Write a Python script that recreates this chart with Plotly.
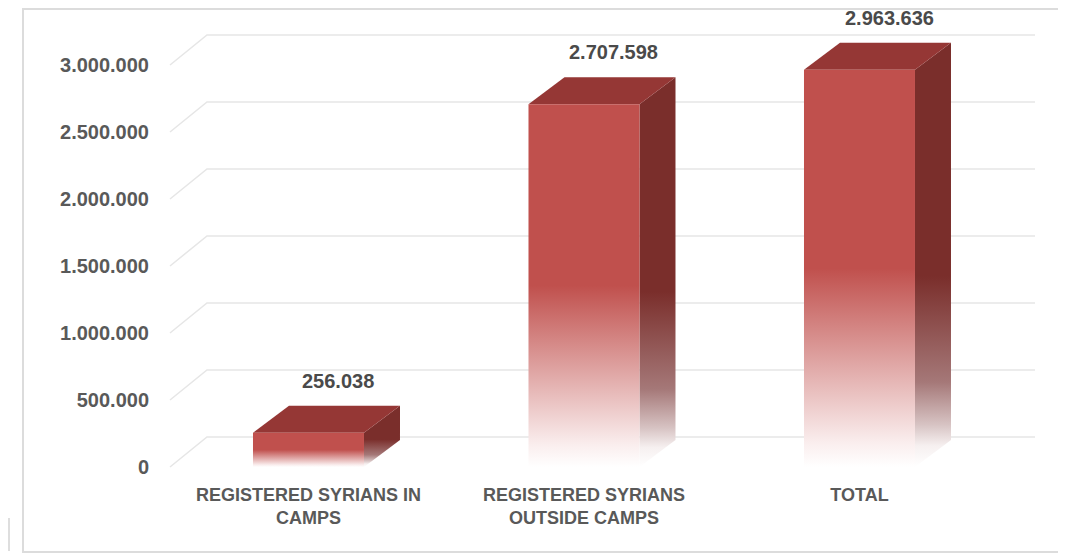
import plotly.graph_objects as go

# ---------------- data ----------------
categories = ["REGISTERED SYRIANS IN<br>CAMPS", "REGISTERED SYRIANS<br>OUTSIDE CAMPS", "TOTAL"]
values = [256038, 2707598, 2963636]
y_ticks = [0, 500000, 1000000, 1500000, 2000000, 2500000, 3000000]

# ---------------- style / geometry ----------------
FRONT = "#C0504D"
TOP = "#953735"
SIDE = "#7A2E2B"
TEXT = "#595959"
FONT = "Liberation Sans, Arial, sans-serif"

OFF = 8                       # page body margin
W, H = 1066 - OFF, 560 - OFF
ML, MR, MT, MB = 152, 20, 2, 90
PW, PH = W - ML - MR, H - MT - MB
XR = [-0.539, 2.677]
YR = [-22388, 3410448]
px_per_x = PW / (XR[1] - XR[0])
px_per_y = PH / (YR[1] - YR[0])


def paper_x(page_px):
    return (page_px - OFF - ML) / PW


def paper_y(page_py):
    return (H - MB - (page_py - OFF)) / PH


def data_x(page_px):
    return XR[0] + (page_px - OFF - ML) / px_per_x


hw = 55.5 / px_per_x          # half bar width
bdx = 36 / px_per_x           # bar depth offset (x)
bdy = 27 / px_per_y           # bar depth offset (y)
gdx = 37 / px_per_x           # floor depth offset (x)
gdy = 30 / px_per_y           # floor depth offset (y)
gx_front = data_x(170)
gx_end = data_x(1035)

fig = go.Figure()

# 3D gridlines (front diagonal + back wall line)
gx, gy = [], []
for t in y_ticks:
    gx += [gx_front, gx_front + gdx, gx_end, None]
    gy += [t, t + gdy, t + gdy, None]
fig.add_trace(go.Scatter(x=gx, y=gy, mode="lines", line=dict(color="#e6e6e6", width=1.5),
                         hoverinfo="skip", showlegend=False))

front_scale = [[0, "rgb(255,255,255)"], [0.06, "rgb(250,238,238)"], [0.5, FRONT], [1, FRONT]]
side_scale = [[0, "rgb(255,255,255)"], [0.05, "rgb(246,240,240)"], [0.1, "rgb(215,195,195)"],
              [0.2, "rgb(165,120,120)"], [0.45, SIDE], [1, SIDE]]

for i, v in enumerate(values):
    c = i
    # right side face
    fig.add_trace(go.Scatter(
        x=[c + hw, c + hw, c + hw + bdx, c + hw + bdx, c + hw],
        y=[0, v, v + bdy, bdy, 0],
        mode="lines", line=dict(width=0), fill="toself",
        fillgradient=dict(type="vertical", colorscale=side_scale),
        hoverinfo="skip", showlegend=False))
    # top face
    fig.add_trace(go.Scatter(
        x=[c - hw, c + hw, c + hw + bdx, c - hw + bdx, c - hw],
        y=[v, v, v + bdy, v + bdy, v],
        mode="lines", line=dict(width=0), fill="toself", fillcolor=TOP,
        hoverinfo="skip", showlegend=False))
    # front face
    fig.add_trace(go.Scatter(
        x=[c - hw, c + hw, c + hw, c - hw, c - hw],
        y=[0, 0, v, v, 0],
        mode="lines", line=dict(width=0), fill="toself",
        fillgradient=dict(type="vertical", colorscale=front_scale),
        hoverinfo="skip", showlegend=False))
    # value label
    fig.add_annotation(x=c + bdx / 2 + 12 / px_per_x, y=v + bdy, yshift=25,
                       text=f"{v:,}".replace(",", "."), showarrow=False,
                       font=dict(family=FONT, size=20, color="#4a4a4a", weight="bold"),
                       xanchor="center", yanchor="middle")

fig.update_xaxes(range=XR, tickvals=list(range(len(categories))), ticktext=categories,
                 showgrid=False, zeroline=False, showline=False, ticks="",
                 tickfont=dict(family=FONT, size=18, color=TEXT, weight="bold"),
                 ticklabelstandoff=12)
fig.update_yaxes(range=YR, tickvals=y_ticks, tickformat=",d",
                 showgrid=False, zeroline=False, showline=False, ticks="",
                 tickfont=dict(family=FONT, size=20, color=TEXT, weight="bold"),
                 ticklabelstandoff=10)

# chart border + small artefact line
fig.add_shape(type="rect", xref="paper", yref="paper",
              x0=paper_x(23), x1=1.1,
              y0=paper_y(552), y1=(H - MB - 1) / PH,
              line=dict(color="#dcdcdc", width=2), layer="below")
fig.add_shape(type="line", xref="paper", yref="paper",
              x0=-(ML - 1) / PW, x1=-(ML - 1) / PW,
              y0=paper_y(518), y1=paper_y(551),
              line=dict(color="#bdbdbd", width=1))

fig.update_layout(width=W, height=H, autosize=False,
                  margin=dict(l=ML, r=MR, t=MT, b=MB),
                  paper_bgcolor="white", plot_bgcolor="white",
                  separators=",.", showlegend=False,
                  font=dict(family=FONT, color=TEXT))

fig.write_html("out.html")
